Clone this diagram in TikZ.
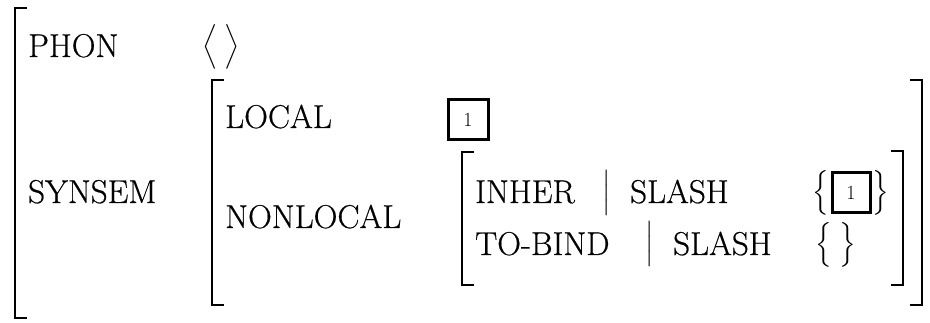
\documentclass[tikz,border=0pt]{standalone}
\usepackage{amsmath}
\usepackage{fontspec}
\setmainfont{Latin Modern Roman}[FakeBold=0.5]
\newfontfamily\tagfont{Latin Modern Roman}
\newcommand{\dstrut}[1]{\vrule height \dimexpr #1/2+\fontdimen22\textfont2\relax depth \dimexpr #1/2-\fontdimen22\textfont2\relax width 0pt}
\begin{document}
\begin{tikzpicture}[x=1pt,y=-1pt,
  lbl/.style={anchor=base west,inner sep=0pt,font=\fontsize{33}{40}\selectfont},
  delim/.style={inner sep=0pt,font=\fontsize{33}{40}\selectfont},
  tag/.style={draw,line width=3pt,inner sep=0pt,font=\tagfont\fontsize{20}{20}\selectfont},
  brk/.style={line width=2.6pt}]
\useasboundingbox (0,0) rectangle (930,323);
% outer left bracket
\coordinate (o1) at (27,8); \coordinate (o2) at (15,8);
\coordinate (o3) at (15,318); \coordinate (o4) at (27,318);
\draw[brk] (o1) -- (o2) -- (o3) -- (o4);
% top level
\node[lbl] (phon) at (28,57) {PHON};
\node[delim] (phonv) at (221,47) {$\left\langle\dstrut{38pt}\;\right\rangle$};
\node[lbl] (synsem) at (28,203) {SYNSEM};
% synsem bracket
\coordinate (s1) at (224,80); \coordinate (s2) at (212,80);
\coordinate (s3) at (212,305); \coordinate (s4) at (224,305);
\draw[brk] (s1) -- (s2) -- (s3) -- (s4);
\coordinate (s5) at (910,80); \coordinate (s6) at (922,80);
\coordinate (s7) at (922,305); \coordinate (s8) at (910,305);
\draw[brk] (s5) -- (s6) -- (s7) -- (s8);
\node[lbl] (local) at (225,128) {LOCAL};
\node[tag,minimum width=40pt,minimum height=40pt] (t1) at (468,119.5) {1};
\node[lbl] (nonlocal) at (225,228) {NONLOCAL};
% nonlocal bracket
\coordinate (n1) at (474,152); \coordinate (n2) at (462,152);
\coordinate (n3) at (462,285); \coordinate (n4) at (474,285);
\draw[brk] (n1) -- (n2) -- (n3) -- (n4);
\coordinate (n5) at (891,151); \coordinate (n6) at (903,151);
\coordinate (n7) at (903,285); \coordinate (n8) at (891,285);
\draw[brk] (n5) -- (n6) -- (n7) -- (n8);
% rows
\node[lbl] (inher) at (475,203) {INHER};
\node[delim] (bar1) at (607,193) {$\left|\dstrut{36pt}\right.$};
\node[lbl] (slash1) at (630,203) {SLASH};
\node[delim] (lb1) at (821,193) {$\left\{\dstrut{38pt}\right.$};
\node[tag,minimum width=38pt,minimum height=40pt] (t2) at (851,192.5) {1};
\node[delim] (rb1) at (880,193) {$\left.\dstrut{38pt}\right\}$};
\node[lbl] (tobind) at (475,255) {TO-BIND};
\node[delim] (bar2) at (650,244) {$\left|\dstrut{36pt}\right.$};
\node[lbl] (slash2) at (673,255) {SLASH};
\node[delim] (lb2) at (836,245) {$\left\{\dstrut{38pt}\;\right\}$};
\end{tikzpicture}
\end{document}
